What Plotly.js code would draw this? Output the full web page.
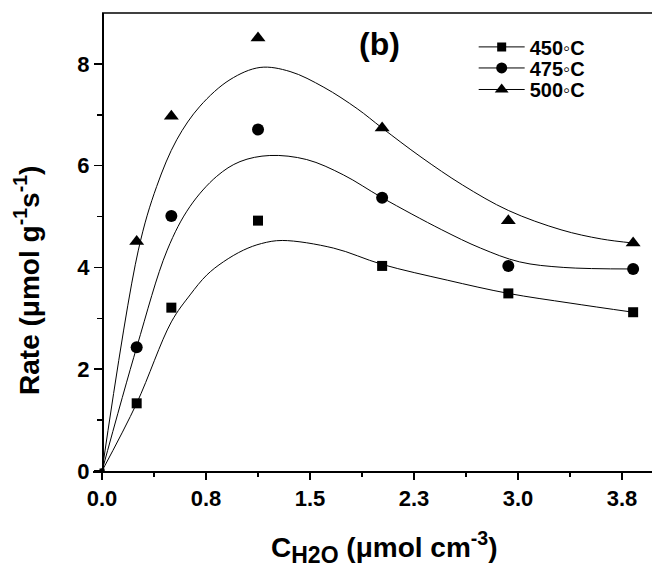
<!DOCTYPE html>
<html>
<head>
<meta charset="utf-8">
<script src="https://cdn.plot.ly/plotly-3.0.1.min.js"></script>
<style>html,body{margin:0;padding:0;background:#fff;}#chart{width:652px;height:573px;}</style>
</head>
<body>
<div id="chart"></div>
<script>
// Measured data points
const cH2O = [0, 0.25, 0.5, 1.125, 2.02, 2.93, 3.83];
const rate450 = [0, 1.33, 3.21, 4.92, 4.03, 3.49, 3.12];
const rate475 = [0, 2.43, 5.01, 6.71, 5.37, 4.03, 3.97];
const rate500 = [0, 4.51, 6.97, 8.51, 6.74, 4.92, 4.48];

// Fitted curves
const fit450X = [0, 0.25, 0.5, 0.635, 0.755, 0.875, 1.02, 1.15, 1.3, 1.67, 2.02, 2.49, 2.93, 3.375, 3.83];
const fit450Y = [0, 1.33, 2.93, 3.46, 3.85, 4.11, 4.34, 4.47, 4.53, 4.38, 4.06, 3.75, 3.49, 3.30, 3.12];
const fit475X = [0, 0.25, 0.47, 0.635, 0.827, 0.995, 1.21, 1.476, 1.74, 2.02, 2.45, 2.73, 3.01, 3.33, 3.83];
const fit475Y = [0, 2.43, 4.34, 5.20, 5.79, 6.08, 6.20, 6.12, 5.82, 5.37, 4.74, 4.38, 4.11, 4.00, 3.97];
const fit500X = [0, 0.262, 0.394, 0.539, 0.707, 0.923, 1.14, 1.356, 1.60, 1.84, 2.02, 2.3, 2.6, 2.93, 3.31, 3.6, 3.83];
const fit500Y = [0, 4.34, 5.59, 6.51, 7.17, 7.69, 7.93, 7.85, 7.54, 7.12, 6.74, 6.17, 5.62, 5.12, 4.74, 4.56, 4.48];

const seriesNames = ['450\u25E6C', '475\u25E6C', '500\u25E6C'];
const xTickVals = [0, 0.75, 1.5, 2.25, 3.0, 3.75];
const xTickText = ['0.0', '0.8', '1.5', '2.3', '3.0', '3.8'];
const xMinorVals = [0.375, 1.125, 1.875, 2.625, 3.375];
const yTickVals = [0, 2, 4, 6, 8];
const yMinorVals = [1, 3, 5, 7];

const FONT = 'Liberation Sans, Arial, Helvetica, sans-serif';
const xRange = [-0.065, 3.966];
const yRange = [0, 9];
const yPos = (0 - xRange[0]) / (xRange[1] - xRange[0]);

const symbols = ['square', 'circle', 'triangle-up'];
const msize = [10, 12, 13];
const rates = [rate450, rate475, rate500];
const fitsX = [fit450X, fit475X, fit500X];
const fitsY = [fit450Y, fit475Y, fit500Y];
const legendIds = ['legend', 'legend2', 'legend3'];
const legendRowY = [0.926, 0.880, 0.833];

const traces = [];
for (let i = 0; i < 3; i++) {
  traces.push({
    x: fitsX[i], y: fitsY[i], type: 'scatter', mode: 'lines',
    line: {color: '#000', width: 1, shape: 'spline', smoothing: 1},
    showlegend: false, hoverinfo: 'skip'
  });
  traces.push({
    x: cH2O, y: rates[i], type: 'scatter', mode: 'markers',
    marker: {symbol: symbols[i], color: '#000', opacity: 1, line: {width: 0},
             size: cH2O.map((v, k) => k === 0 ? 5 : msize[i])},
    showlegend: false
  });
}
for (let i = 0; i < 3; i++) {
  traces.push({
    x: [null], y: [null], type: 'scatter', mode: 'lines+markers', name: seriesNames[i],
    legend: legendIds[i],
    line: {color: '#000', width: 1},
    marker: {symbol: symbols[i], color: '#000', size: msize[i] - 1, line: {width: 0}}
  });
}

function legendBox(y) {
  return {
    x: 0.681, y: y, xanchor: 'left', yanchor: 'middle',
    bgcolor: 'rgba(0,0,0,0)', borderwidth: 0,
    font: {family: FONT, size: 20, weight: 'bold'},
    itemwidth: 46
  };
}

const layout = {
  width: 652, height: 573,
  margin: {l: 93, r: 0, t: 13, b: 102},
  paper_bgcolor: '#fff', plot_bgcolor: '#fff',
  font: {family: FONT, color: '#000', size: 20, weight: 'bold'},
  xaxis: {
    range: xRange, showgrid: false, zeroline: false,
    showline: true, linecolor: '#000', linewidth: 1.5,
    tickmode: 'array', tickvals: xTickVals, ticktext: xTickText,
    ticks: 'outside', ticklen: 7, tickwidth: 1.5, tickcolor: '#000',
    minor: {tickmode: 'array', tickvals: xMinorVals, ticks: 'outside', ticklen: 4, tickwidth: 1.5, tickcolor: '#000'},
    tickfont: {family: FONT, size: 22, weight: 'bold'},
    automargin: false
  },
  yaxis: {
    range: yRange, showgrid: false, zeroline: false,
    anchor: 'free', position: yPos,
    showline: true, linecolor: '#000', linewidth: 1.5,
    tickmode: 'array', tickvals: yTickVals,
    ticks: 'outside', ticklen: 8, tickwidth: 1.5, tickcolor: '#000',
    minor: {tickmode: 'array', tickvals: yMinorVals, ticks: 'outside', ticklen: 5, tickwidth: 1.5, tickcolor: '#000'},
    tickfont: {family: FONT, size: 22, weight: 'bold'},
    automargin: false
  },
  shapes: [
    {type: 'line', xref: 'paper', yref: 'paper', x0: yPos, x1: 1, y0: 1, y1: 1, line: {color: '#000', width: 1.5}}
  ],
  annotations: [
    {text: '(b)', xref: 'paper', yref: 'paper', x: 0.513, y: 0.932, showarrow: false,
     font: {family: FONT, size: 32, weight: 'bold'}, xanchor: 'center', yanchor: 'middle'},
    {text: 'Rate (\u03BCmol g<sup>-1</sup>s<sup>-1</sup>)', xref: 'paper', yref: 'paper',
     x: -0.118, y: 0.415, textangle: -90, showarrow: false,
     font: {family: FONT, size: 28, weight: 'bold'}, xanchor: 'center', yanchor: 'middle'},
    {text: 'C<sub><span style="font-size:23px">H2O</span></sub> (\u03BCmol cm<sup>-3</sup>)', xref: 'paper', yref: 'paper',
     x: 0.522, y: -0.168, showarrow: false,
     font: {family: FONT, size: 28, weight: 'bold'}, xanchor: 'center', yanchor: 'middle'}
  ],
  legend: legendBox(legendRowY[0]),
  legend2: legendBox(legendRowY[1]),
  legend3: legendBox(legendRowY[2]),
  showlegend: true
};

Plotly.newPlot('chart', traces, layout, {displayModeBar: false, staticPlot: true});
</script>
</body>
</html>
